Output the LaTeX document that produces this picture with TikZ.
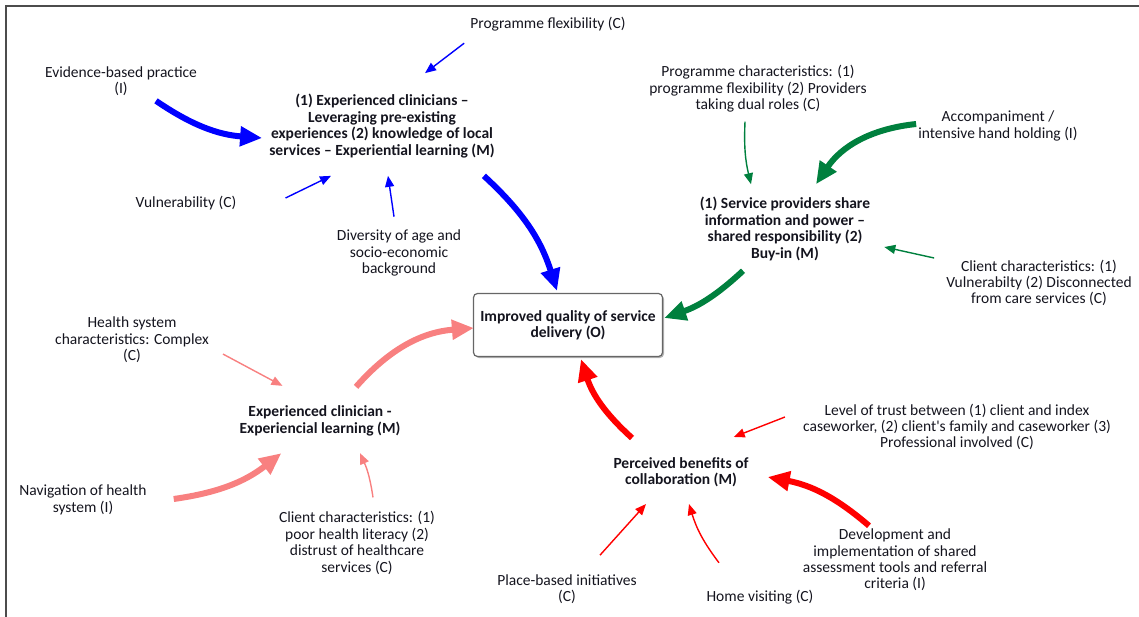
\documentclass[tikz,border=0pt]{standalone}
\usepackage{fontspec}
\setmainfont{Carlito}
\usetikzlibrary{arrows.meta, shadows}
\definecolor{mgreen}{RGB}{0,128,62}
\definecolor{mpink}{RGB}{248,128,128}
\definecolor{txt}{RGB}{20,20,30}

\begin{document}
\begin{tikzpicture}[
    x=1pt, y=-1pt,
    factor/.style={align=center, text=txt, inner sep=2pt, font=\fontsize{15.5}{16.4}\selectfont},
    mech/.style={factor, font=\bfseries\fontsize{15.5}{16.4}\selectfont},
    outcome/.style={mech, draw=black!60, line width=1.2pt, rounded corners=4pt, fill=white,
      minimum width=189pt, minimum height=63pt,
      drop shadow={shadow xshift=1.5pt, shadow yshift=-1.5pt, fill=black!50, opacity=0.6}},
    weak/.style={-{Triangle[length=11pt,width=9pt]}, line width=1.4pt},
    strong/.style={-{Triangle[length=22pt,width=19pt]}, line width=6pt}
  ]
  \useasboundingbox (0,0) rectangle (1139,617);
  % frame
  \draw[line width=1.8pt, black!70] (1139,6) -- (6,6) -- (6,617);

  % Outcome
  \node[outcome] (out) at (568,325) {Improved quality of service\\delivery (O)};

  % Mechanism 1
  \node[mech] (m1) at (382,126) {(1) Experienced clinicians –\\Leveraging pre-existing\\experiences (2) knowledge of local\\services – Experiential learning (M)};
  \node[factor] (progflex) at (548,24) {Programme flexibility (C)};
  \node[factor] (evid) at (121,81) {Evidence-based practice\\(I)};
  \node[factor] (vuln) at (186,203) {Vulnerability (C)};
  \node[factor] (divers) at (399,253) {Diversity of age and\\socio-economic\\background};

  % Mechanism 2
  \node[mech] (m2) at (785,229) {(1) Service providers share\\information and power –\\shared responsibility (2)\\Buy-in (M)};
  \node[factor] (progchar) at (758,89) {Programme characteristics: (1)\\programme flexibility (2) Providers\\taking dual roles (C)};
  \node[factor] (accomp) at (998,126) {Accompaniment /\\intensive hand holding (I)};
  \node[factor] (client2) at (1039,283) {Client characteristics: (1)\\Vulnerabilty (2) Disconnected\\from care services (C)};

  % Mechanism 3
  \node[mech] (m3) at (320,421) {Experienced clinician -\\Experiencial learning (M)};
  \node[factor] (health) at (132,340) {Health system\\characteristics: Complex\\(C)};
  \node[factor] (nav) at (83,500) {Navigation of health\\system (I)};
  \node[factor] (client3) at (357,543) {Client characteristics: (1)\\poor health literacy (2)\\distrust of healthcare\\services (C)};

  % Mechanism 4
  \node[mech] (m4) at (681,472) {Perceived benefits of\\collaboration (M)};
  \node[factor] (trust) at (957,427) {Level of trust between (1) client and index\\caseworker, (2) client\textquotesingle s family and caseworker (3)\\Professional involved (C)};
  \node[factor] (devel) at (895,560) {Development and\\implementation of shared\\assessment tools and referral\\criteria (I)};
  \node[factor] (place) at (567,589) {Place-based initiatives\\(C)};
  \node[factor] (home) at (760,597) {Home visiting (C)};

  % Arrows to mechanism 1
  \draw[weak, blue] ([shift={(-4,10)}]progflex.south west) -- ([shift={(43,-19)}]m1.north);
  \draw[strong, blue] ([shift={(35,3)}]evid.south) to[bend right=15] ([shift={(-5,12)}]m1.west);
  \draw[weak, blue] ([shift={(47,-5)}]vuln.east) -- ([shift={(-51,16)}]m1.south);
  \draw[weak, blue] ([shift={(-5,-11)}]divers.north) -- ([shift={(6,16)}]m1.south);
  \draw[strong, blue] ([shift={(-13,16)}]m1.south east) to[bend left=15] ([shift={(-11,-2)}]out.north);

  % Arrows to mechanism 2
  \draw[weak, mgreen] ([shift={(-13,7)}]progchar.south) to[bend right=8] ([shift={(-34,-11)}]m2.north);
  \draw[strong, mgreen] ([shift={(0,-2)}]accomp.west) to[bend right=25] ([shift={(31,-11)}]m2.north);
  \draw[weak, mgreen] ([shift={(-10,-25)}]client2.west) -- ([shift={(12,18)}]m2.east);
  \draw[strong, mgreen] ([shift={(-42,8)}]m2.south) to[bend left=12] ([shift={(1,-7)}]out.east);

  % Arrows to mechanism 3
  \draw[weak, mpink] ([shift={(12,-11)}]health.south east) -- ([shift={(45,-18)}]m3.north west);
  \draw[strong, mpink] ([shift={(36,-17)}]m3.north) to[bend left=22] ([shift={(1,3)}]out.west);
  \draw[strong, mpink] ([shift={(25,-1)}]nav.east) to[bend right=15] ([shift={(44,15)}]m3.south west);
  \draw[weak, mpink] ([shift={(16,-12)}]client3.north) to[bend right=8] ([shift={(40,15)}]m3.south);

  % Arrows to mechanism 4
  \draw[strong, red] ([shift={(-49,-17)}]m4.north) to[bend left=15] ([shift={(13,2)}]out.south);
  \draw[weak, red] ([shift={(-16,-10)}]trust.west) -- ([shift={(-17,-18)}]m4.north east);
  \draw[strong, red] ([shift={(-26,-1)}]devel.north) to[bend right=15] ([shift={(17,5)}]m4.east);
  \draw[weak, red] ([shift={(33,-17)}]place.north) -- ([shift={(-35,15)}]m4.south);
  \draw[weak, red] ([shift={(-41,-25)}]home.north) to[bend left=10] ([shift={(8,15)}]m4.south);
\end{tikzpicture}
\end{document}
